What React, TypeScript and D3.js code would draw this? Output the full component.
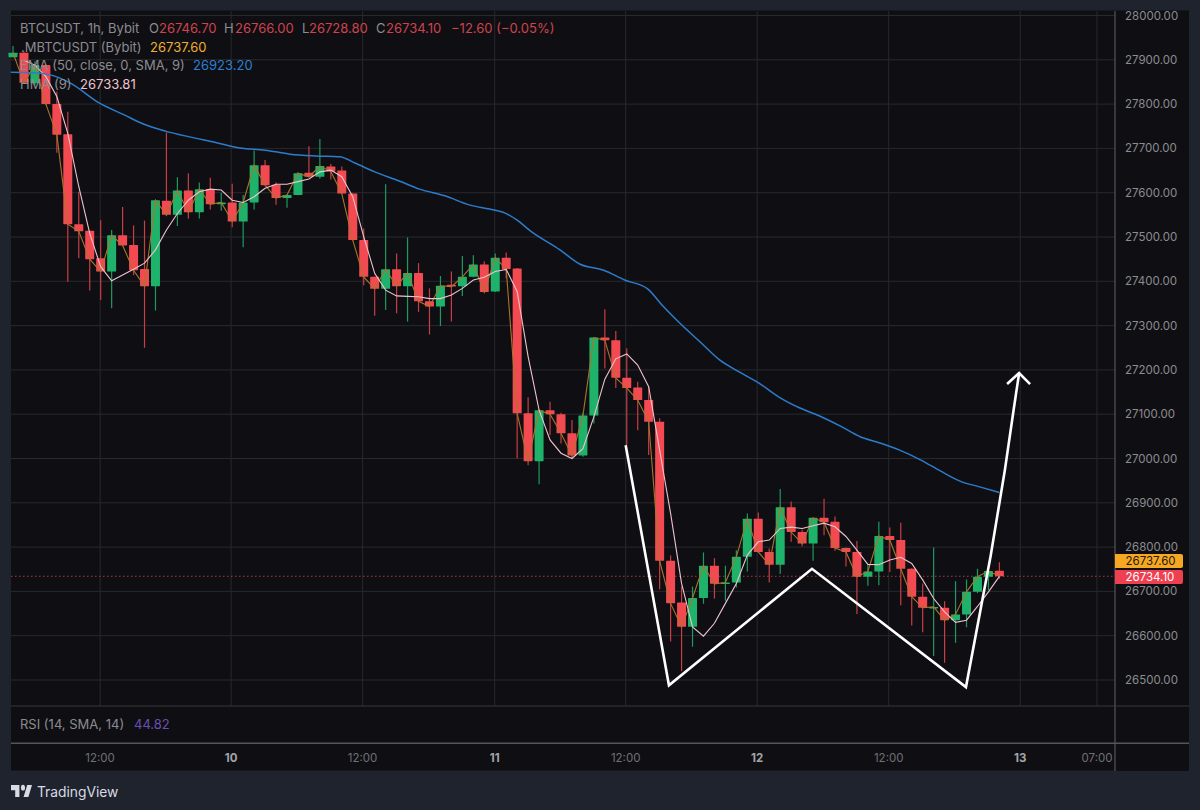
import React from "react";
import * as d3 from "d3";

const open = [
  27906,27916,27847,27888,27800,27732,27529,27514,27452,27422,
  27504,27482,27428,27389,27582,27550,27605,27556,27608,27574,
  27578,27535,27578,27662,27618,27588,27595,27645,27636,27659,
  27650,27598,27493,27410,27383,27427,27389,27419,27355,27343,
  27392,27389,27410,27438,27377,27453,27429,27102,26994,27109,
  27100,27057,27007,27097,27273,27267,27182,27160,27132,27083,
  26769,26675,26620,26685,26758,26717,26720,26778,26864,26789,
  26760,26890,26834,26808,26866,26857,26798,26789,26733,26745,
  26825,26816,26751,26688,26662,26663,26635,26648,26699,26733,
  26746.7];
const close = [
  27916,27848,27888,27800,27731,27529,27513,27450,27422,27504,
  27481,27425,27389,27583,27550,27605,27556,27608,27574,27578,
  27535,27578,27662,27617,27588,27595,27644,27636,27660,27648,
  27598,27493,27410,27383,27427,27389,27419,27355,27343,27390,
  27388,27410,27438,27376,27453,27428,27102,26994,27109,27100,
  27057,27007,27097,27273,27267,27182,27159,27132,27083,26769,
  26673,26620,26685,26758,26717,26720,26778,26864,26789,26760,
  26890,26834,26808,26866,26856,26798,26789,26733,26745,26825,
  26816,26751,26688,26663,26665,26635,26648,26699,26733,26746,
  26734.1];
const high = [
  27931,27918,27896,27890,27828,27783,27602,27514,27538,27516,
  27568,27526,27537,27584,27736,27635,27644,27623,27634,27600,
  27620,27595,27695,27674,27623,27596,27646,27705,27721,27665,
  27659,27599,27519,27411,27619,27463,27499,27441,27384,27412,
  27422,27457,27459,27445,27463,27465,27430,27138,27110,27128,
  27103,27087,27103,27274,27337,27288,27249,27173,27162,27091,
  26781,26711,26711,26788,26775,26758,26793,26876,26878,26797,
  26931,26903,26839,26867,26909,26869,26799,26814,26762,26857,
  26844,26855,26752,26718,26799,26678,26723,26727,26751,26747,
  26766];
const low = [
  27906,27847,27843,27798,27690,27399,27452,27379,27358,27339,
  27480,27414,27250,27334,27547,27525,27541,27542,27562,27559,
  27522,27477,27562,27616,27573,27566,27594,27635,27632,27630,
  27597,27492,27391,27322,27335,27328,27309,27331,27280,27299,
  27309,27367,27409,27373,27376,27407,27000,26985,26942,27053,
  27034,27000,27004,27079,27203,27159,27030,27064,27008,26705,
  26587,26520,26575,26672,26684,26679,26709,26745,26788,26720,
  26739,26812,26802,26769,26827,26792,26756,26649,26713,26714,
  26744,26669,26623,26608,26554,26539,26584,26619,26696,26703,
  26728.8];
const hma = [
  27899,27888,27862,27817,27734,27614,27508,27433,27401,27414,
  27427,27441,27471,27516,27553,27583,27602,27608,27606,27583,
  27578,27591,27610,27619,27619,27625,27631,27647,27651,27636,
  27591,27501,27418,27380,27367,27366,27365,27361,27361,27369,
  27384,27403,27409,27422,27427,27377,27230,27109,27042,27012,
  27000,27022,27094,27179,27225,27236,27211,27162,27019,26876,
  26718,26620,26599,26628,26673,26718,26782,26812,26816,26842,
  26845,26842,26848,26854,26846,26824,26793,26761,26760,26771,
  26777,26763,26726,26684,26654,26630,26635,26666,26699,26733.81];
const smaIndex = [
  -0.2,1.8,3.4,5.2,7.9,10.2,11.9,13.9,16.1,18.4,20.7,23,25.3,27.6,29.8,31.2,33,35.3,37.1,39.4,
  41.7,43.5,44.9,46,47.2,49.9,51.7,53.9,55.8,57.9,59.3,60.9,62.7,64.5,66.3,68.2,70,71.8,73.6,
  75.5,77.3,79.1,80.9,82.8,84.6,86.4,88.2,90];
const smaValue = [
  27872,27871,27866,27848,27802,27775,27755,27739,27726,27714,27701,27696,27687,27683,27681,27667,27647,27626,27608,27593,
  27572,27563,27554,27538,27514,27471,27439,27425,27403,27383,27344,27304,27263,27222,27195,27168,27137,27114,27096,
  27073,27049,27035,27019,26997,26972,26949,26936,26923.2];
const patternIndex = [55.9,59.85,72.9,86.95,89.2,90.5,91.3,91.8];
const patternValue = [27030,26488,26751,26484,26780,26974,27110,27193];
const arrowIndex = [90.7,91.8,92.8];
const arrowValue = [27168,27193,27168];

const priceTicks = d3.range(26500, 28001, 100);
const timeTickIndex = [7.95,19.9,31.9,43.95,55.9,67.9,79.9,91.9,98.9];
const timeTickLabel = ["12:00","10","12:00","11","12:00","12","12:00","13","07:00"];
const boldTicks = ["10","11","12","13"];

const FONT = "Inter, 'Noto Sans', sans-serif";
const C = {
  page:"#1e232e", panel:"#0f0f13", grid:"#28292e", sep:"#55565b", text:"#8b8c91",
  up:"#1fb26b", down:"#f34a52", upW:"#1d9a5e", downW:"#c83e45",
  orange:"#a9752a", pink:"#eec3ce", blue:"#2c7ccb", red:"#d0434c",
};

const x = d3.scaleLinear().domain([0,90]).range([13,999.4]);
const y = d3.scaleLinear().domain([26500,28000]).range([680,15.5]);

const idx = d3.range(open.length);
const closeLine = d3.line<number>().x(i=>x(i)).y(i=>y(close[i]))(idx)!;
const hmaLine = d3.line<number>().x((_,i)=>x(i+1)).y(d=>y(d))(hma)!;
const smaLine = d3.line<number>().x(i=>x(smaIndex[i])).y(i=>y(smaValue[i])).curve(d3.curveMonotoneX)(d3.range(smaIndex.length))!;
const patLine = d3.line<number>().x(i=>x(patternIndex[i])).y(i=>y(patternValue[i]))(d3.range(patternIndex.length))!;
const arrLine = d3.line<number>().x(i=>x(arrowIndex[i])).y(i=>y(arrowValue[i]))(d3.range(arrowIndex.length))!;

const T = ({px,py,fill=C.text,size=13,anchor="start",weight=400,children}:any)=>(
  <text x={px} y={py} fill={fill} fontSize={size} textAnchor={anchor} fontWeight={weight} fontFamily={FONT}>{children}</text>
);

export default function App(){
  const lastMark = y(close[close.length-1]);
  return (
    <svg width={1200} height={810} viewBox="0 0 1200 810" style={{position:"fixed",left:0,top:0,display:"block"}}>
      <rect width={1200} height={810} fill={C.page}/>
      <rect x={11} y={10.5} width={1178} height={760} fill={C.panel}/>
      {priceTicks.map(p=>(
        <line key={p} x1={11} x2={1115} y1={y(p)} y2={y(p)} stroke={C.grid} strokeWidth={1}/>
      ))}
      {timeTickIndex.map((t,i)=>(
        <line key={i} x1={x(t)} x2={x(t)} y1={11} y2={706} stroke={C.grid} strokeWidth={1}/>
      ))}
      <line x1={11} x2={1189} y1={706} y2={706} stroke="#36373c" strokeWidth={1}/>
      <line x1={11} x2={1115} y1={lastMark} y2={lastMark} stroke="#a33a42" strokeWidth={1} strokeDasharray="1.5 2.5"/>

      {idx.map(i=>{
        const up = close[i]>=open[i];
        const top = y(Math.max(open[i],close[i]));
        const bot = y(Math.min(open[i],close[i]));
        return (
          <g key={i}>
            <line x1={x(i)} x2={x(i)} y1={y(high[i])} y2={y(low[i])} stroke={up?C.upW:C.downW} strokeWidth={1.2}/>
            <rect x={x(i)-4.5} width={9} y={top} height={Math.max(bot-top,1.5)} fill={up?C.up:C.down} rx={0.6}/>
          </g>
        );
      })}
      <path d={closeLine} fill="none" stroke={C.orange} strokeWidth={1.1}/>
      <path d={hmaLine} fill="none" stroke={C.pink} strokeWidth={1.1}/>
      <path d={smaLine} fill="none" stroke={C.blue} strokeWidth={1.5}/>
      <path d={patLine} fill="none" stroke="#fff" strokeWidth={2.6} strokeLinejoin="miter"/>
      <path d={arrLine} fill="none" stroke="#fff" strokeWidth={2.6}/>

      {/* legend */}
      <T px={20} py={33}>BTCUSDT, 1h, Bybit</T>
      <T px={149} py={33}>O</T><T px={159} py={33} fill={C.red}>26746.70</T>
      <T px={224} py={33}>H</T><T px={235} py={33} fill={C.red}>26766.00</T>
      <T px={302} py={33}>L</T><T px={309} py={33} fill={C.red}>26728.80</T>
      <T px={376} py={33}>C</T><T px={386} py={33} fill={C.red}>26734.10</T>
      <T px={451} py={33} fill={C.red}>−12.60 (−0.05%)</T>
      <T px={21} py={52}>.MBTCUSDT (Bybit)</T><T px={150} py={52} fill="#eeb02f">26737.60</T>
      <T px={20} py={70}>EMA (50, close, 0, SMA, 9)</T><T px={193} py={70} fill="#2b80d2">26923.20</T>
      <T px={20} py={89}>HMA (9)</T><T px={80} py={89} fill={C.pink}>26733.81</T>
      <T px={20} py={729}>RSI (14, SMA, 14)</T><T px={134} py={729} fill="#6a4fb3">44.82</T>

      {/* price axis */}
      <rect x={1115} y={11} width={74} height={760} fill={C.panel}/>
      <line x1={1115} x2={1115} y1={11} y2={771} stroke={C.sep} strokeWidth={1.2}/>
      <line x1={11} x2={1189} y1={743.3} y2={743.3} stroke={C.sep} strokeWidth={1.4}/>
      <line x1={1115} x2={1189} y1={706} y2={706} stroke="#36373c" strokeWidth={1}/>
      {priceTicks.map(p=>(
        <T key={p} px={1125} py={y(p)+4} size={11.5}>{d3.format(".2f")(p)}</T>
      ))}
      <path d="M1115 554H1181a2 2 0 0 1 2 2V566a2 2 0 0 1 -2 2H1115Z" fill="#f7a823"/>
      <path d="M1115 570H1181a2 2 0 0 1 2 2V582a2 2 0 0 1 -2 2H1115Z" fill="#ee4050"/>
      <T px={1125.5} py={565} size={11.5} fill="#22190a">26737.60</T>
      <T px={1125.5} py={581} size={11.5} fill="#ffffff">26734.10</T>

      {/* time axis */}
      {timeTickIndex.map((t,i)=>{
        const bold = boldTicks.includes(timeTickLabel[i]);
        const cx = timeTickLabel[i]==="07:00" ? 1097 : x(t);
        return <T key={i} px={cx} py={762} size={11.5} anchor="middle"
          fill={bold?"#a3a4a8":"#6f7075"} weight={bold?700:400}>{timeTickLabel[i]}</T>;
      })}

      {/* logo */}
      <g fill="#d8dbe1" transform="translate(11,780) scale(0.6,0.85)">
        <path d="M14 6H0v6h7v8h7V6Z"/>
        <circle cx={20} cy={9} r={3.4}/>
        <path d="M29 20H21l6-14h8l-6 14Z"/>
      </g>
      <T px={37} py={796.5} size={13.8} fill="#d8dbe1">TradingView</T>
    </svg>
  );
}
